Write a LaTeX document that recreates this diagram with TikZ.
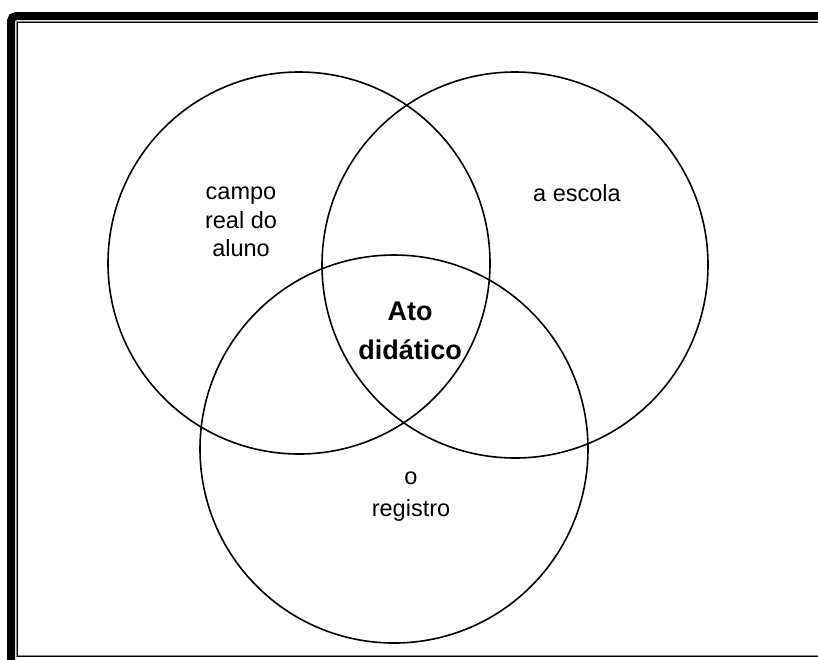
\documentclass[tikz,border=0pt]{standalone}
\usepackage{fontspec}
\setmainfont{Liberation Sans}
\begin{document}
\begin{tikzpicture}[x=1pt,y=-1pt,
  setcircle/.style={circle,draw=black,line width=1.6pt,inner sep=0pt},
  label/.style={font=\fontsize{23.5}{28.5}\selectfont,align=center},
  centrelabel/.style={font=\fontsize{27}{39}\selectfont\bfseries,align=center}]
\useasboundingbox (0,0) rectangle (818,659);
% frame: heavy outer border with a thin inner rule
\draw[line width=8pt,rounded corners=5pt] (830,16) -- (11,16) -- (11,670);
\draw[line width=2pt,black!45] (830,21.5) -- (16.5,21.5) -- (16.5,655.5) -- (830,655.5);
\draw[line width=0.8pt,black] (830,22.5) -- (17.5,22.5) -- (17.5,656.5) -- (830,656.5);
% the three sets
\node[setcircle,minimum size=382pt] (aluno) at (299,263) {};
\node[setcircle,minimum size=386pt] (escola) at (515,265) {};
\node[setcircle,minimum size=388pt] (registro) at (394,449) {};
% labels
\node[label] (taluno) at (241,222) {campo\\real do\\aluno};
\node[label] (tescola) at (577,193) {a escola};
\node[label,font=\fontsize{23.5}{32}\selectfont] (tregistro) at (411,497) {o\\registro};
\node[centrelabel] (tato) at (410,331) {Ato\\didático};
\end{tikzpicture}
\end{document}
